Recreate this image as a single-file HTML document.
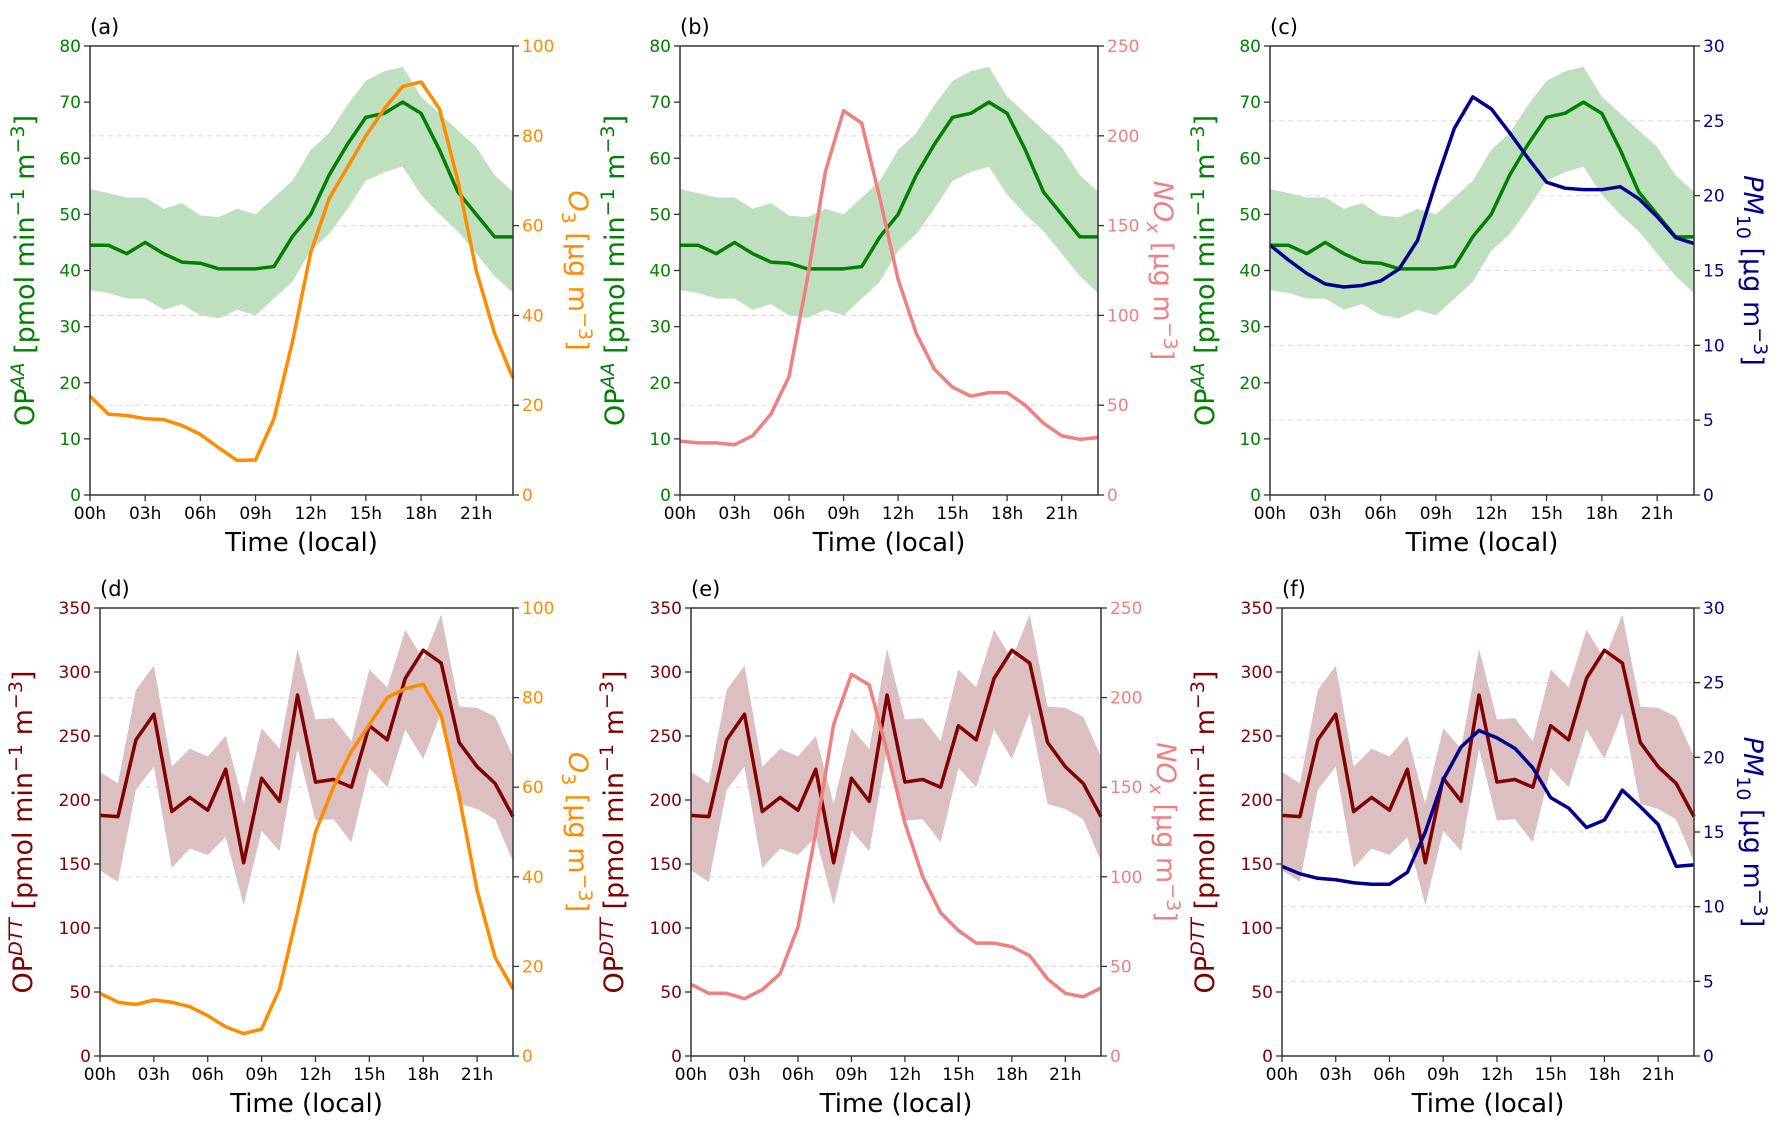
<!DOCTYPE html>
<html><head><meta charset="utf-8"><style>
body{margin:0;background:#fff}
svg{display:block;font-family:"DejaVu Sans","Liberation Sans",sans-serif}
</style></head><body>
<svg id="fig" width="1788" height="1135" viewBox="0 0 1788 1135" xmlns="http://www.w3.org/2000/svg"></svg>
<script>
const hours=[0,1,2,3,4,5,6,7,8,9,10,11,12,13,14,15,16,17,18,19,20,21,22,23];
const xTickLabels=["00h","03h","06h","09h","12h","15h","18h","21h"];
const aaMean=[44.5,44.5,43,45,43,41.5,41.3,40.3,40.3,40.3,40.7,46,50,57,62.5,67.3,68,70,68,61.5,54,50,46,46];
const aaUpper=[54.5,53.8,53,53,51,52,49.8,49.5,51,50,53,56,61.5,64.5,69.5,73.8,75.5,76.3,71,68,65,62,57,54];
const aaLower=[36.5,36,35,35,33,34,32,31.5,33,32,35,38,43.5,46.5,51,56,57.5,58.5,53.5,50,47,43,39,36];
const dttMean=[188,187,247,267,191,202,192,224,151,217,199,282,214,216,210,258,247,295,317,307,245,226,213,187];
const dttUpper=[222,213,286,305,226,240,234,250,197,256,240,318,263,264,246,302,288,333,310,345,273,272,265,234];
const dttLower=[145,136,208,226,147,162,157,171,118,176,160,240,184,185,167,225,210,255,232,268,197,193,185,152];
const o3Row1=[22,18,17.7,17,16.8,15.5,13.5,10.5,7.7,7.8,17,34,54,66,73,80,86,91,92,86,70,50,36,26];
const noxRow1=[30,29,29,28,33,45,66,120,180,214,207,165,120,90,70,60,55,57,57,50,40,33,31,32];
const pmRow1=[16.7,15.7,14.8,14.1,13.9,14,14.3,15.1,17,20.9,24.5,26.6,25.8,24.2,22.5,20.9,20.5,20.4,20.4,20.6,19.8,18.6,17.2,16.8];
const o3Row2=[14,12,11.5,12.5,12,11,9,6.5,5,6,15,32,50,60,68,74,80,82,83,76,58,37,22,15];
const noxRow2=[40,35,35,32,37,46,72,125,185,213,207,170,130,100,80,70,63,63,61,56,43,35,33,38];
const pmRow2=[12.7,12.2,11.9,11.8,11.6,11.5,11.5,12.3,15,18.5,20.7,21.8,21.3,20.6,19.3,17.3,16.6,15.3,15.8,17.8,16.7,15.5,12.7,12.8];

const NS="http://www.w3.org/2000/svg";
const svg=document.getElementById('fig');
function mk(tag,attrs,parent){const e=document.createElementNS(NS,tag);for(const k in attrs)e.setAttribute(k,attrs[k]);(parent||svg).appendChild(e);return e;}

const panels=[
 {id:'a',L:90,R:513,T:46,B:495,op:'aa',sec:o3Row1,rMax:100,rStep:20,rc:'#ff8c00',rl:'o3'},
 {id:'b',L:680,R:1098,T:46,B:495,op:'aa',sec:noxRow1,rMax:250,rStep:50,rc:'#f08080',rl:'nox'},
 {id:'c',L:1270,R:1694,T:46,B:495,op:'aa',sec:pmRow1,rMax:30,rStep:5,rc:'#00008b',rl:'pm'},
 {id:'d',L:100,R:513,T:608,B:1056,op:'dtt',sec:o3Row2,rMax:100,rStep:20,rc:'#ff8c00',rl:'o3'},
 {id:'e',L:691,R:1101,T:608,B:1056,op:'dtt',sec:noxRow2,rMax:250,rStep:50,rc:'#f08080',rl:'nox'},
 {id:'f',L:1282,R:1694,T:608,B:1056,op:'dtt',sec:pmRow2,rMax:30,rStep:5,rc:'#00008b',rl:'pm'}
];

panels.forEach(p=>{
 const g=mk('g',{});
 
 
 const isAA=p.op==='aa';
 const lMax=isAA?80:350, lStep=isAA?10:50;
 const lc=isAA?'#008000':'#800000';
 const mean=isAA?aaMean:dttMean, up=isAA?aaUpper:dttUpper, lo=isAA?aaLower:dttLower;
 const X=h=>p.L+(p.R-p.L)*h/23;
 const YL=v=>p.B-(p.B-p.T)*v/lMax;
 const YR=v=>p.B-(p.B-p.T)*v/p.rMax;
 for(let v=p.rStep;v<p.rMax;v+=p.rStep){
  const gl=mk('line',{x1:p.L,x2:p.R,y1:YR(v),y2:YR(v),stroke:'#dddddd','stroke-width':1.2,'stroke-dasharray':'5,4'},g);
  
  
 }
 let d='';
 hours.forEach((h,i)=>{d+=(i?'L':'M')+X(h)+','+YL(up[i]);});
 for(let i=hours.length-1;i>=0;i--)d+='L'+X(hours[i])+','+YL(lo[i]);
 const band=mk('path',{d:d+'Z',fill:isAA?'#bfe0bf':'#dcbfc0'},g);
 
 
 const ml=mk('polyline',{points:hours.map((h,i)=>X(h)+','+YL(mean[i])).join(' '),fill:'none',stroke:lc,'stroke-width':3.5,'stroke-linejoin':'round'},g);
 
 
 const sl=mk('polyline',{points:hours.map((h,i)=>X(h)+','+YR(p.sec[i])).join(' '),fill:'none',stroke:p.rc,'stroke-width':3.5,'stroke-linejoin':'round'},g);
 
 
 const fr=mk('rect',{x:p.L,y:p.T,width:p.R-p.L,height:p.B-p.T,fill:'none',stroke:'#333','stroke-width':1.5},g);
 
 
 for(let v=0;v<=lMax;v+=lStep){
  mk('line',{x1:p.L-6,x2:p.L,y1:YL(v),y2:YL(v),stroke:'#333','stroke-width':1.3},g);
  const t=mk('text',{x:p.L-9,y:YL(v)+6,'text-anchor':'end','font-size':17,fill:lc},g);
  t.textContent=v;
  
  
 }
 for(let v=0;v<=p.rMax;v+=p.rStep){
  mk('line',{x1:p.R,x2:p.R+6,y1:YR(v),y2:YR(v),stroke:'#333','stroke-width':1.3},g);
  const t=mk('text',{x:p.R+9,y:YR(v)+6,'font-size':17,fill:p.rc},g);
  t.textContent=v;
  
  
 }
 xTickLabels.forEach((s,i)=>{
  const x=X(i*3);
  mk('line',{x1:x,x2:x,y1:p.B,y2:p.B+6,stroke:'#333','stroke-width':1.3},g);
  const t=mk('text',{x:x,y:p.B+24,'text-anchor':'middle','font-size':17,fill:'#000'},g);
  t.textContent=s;
  
  
 });
 const xt=mk('text',{x:(p.L+p.R)/2,y:p.B+56,'text-anchor':'middle','font-size':26,fill:'#000'},g);
 xt.textContent='Time (local)';
 
 
 const pl=mk('text',{x:p.L,y:p.T-12,'font-size':21,fill:'#000'},g);
 pl.textContent='('+p.id+')';
 
 
 const lx=p.L-(isAA?56:68), ly=(p.T+p.B)/2;
 const ltt=mk('text',{x:lx,y:ly,'text-anchor':'middle','font-size':27,fill:lc,transform:`rotate(-90 ${lx} ${ly})`},g);
 ltt.innerHTML='OP<tspan dy="-10" font-size="19" font-style="italic">'+(isAA?'AA':'DTT')+'</tspan><tspan dy="10"> [pmol min</tspan><tspan dy="-10" font-size="19">−1</tspan><tspan dy="10"> m</tspan><tspan dy="-10" font-size="19">−3</tspan><tspan dy="10">]</tspan>';
 
 
 const rx=p.R+(p.rl==='pm'?50:56);
 const rt=mk('text',{x:rx,y:ly,'text-anchor':'middle','font-size':27,fill:p.rc,transform:`rotate(90 ${rx} ${ly})`},g);
 const sp=p.rl==='o3'?'<tspan font-style="italic">O</tspan><tspan dy="7" font-size="19">3</tspan><tspan dy="-7">':p.rl==='nox'?'<tspan font-style="italic">NO</tspan><tspan dy="7" font-size="19" font-style="italic">x</tspan><tspan dy="-7">':'<tspan font-style="italic">PM</tspan><tspan dy="7" font-size="19">10</tspan><tspan dy="-7">';
 rt.innerHTML=sp+' [μg m</tspan><tspan dy="-10" font-size="19">−3</tspan><tspan dy="10">]</tspan>';
 
 
});
</script>
</body></html>
